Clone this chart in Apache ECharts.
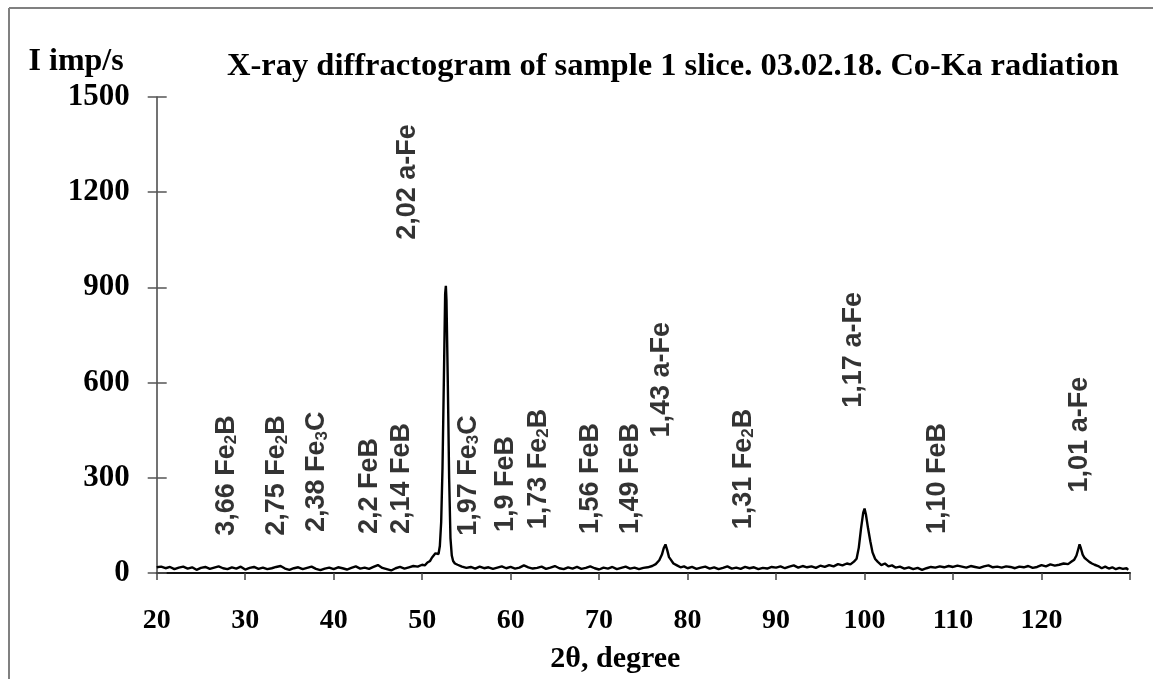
<!DOCTYPE html>
<html><head><meta charset="utf-8">
<script src="https://cdn.jsdelivr.net/npm/echarts@6/dist/echarts.min.js"></script>
<style>html,body{margin:0;padding:0;background:#fff}#c{width:1153px;height:679px}</style>
</head><body><div id="c"></div><script>
// 2θ (degree) sample positions and measured intensity (imp/s)
const twoTheta = [
 20,20.5,21,21.5,22,22.5,23,23.5,24,24.5,25,25.5,26,26.5,27,27.5,28,28.5,29,29.5,
 30,30.5,31,31.5,32,32.5,33,33.5,34,34.5,35,35.5,36,36.5,37,37.5,38,38.5,39,39.5,
 40,40.5,41,41.5,42,42.5,43,43.5,44,44.5,45,45.5,46,46.5,47,47.5,48,48.5,49,49.5,
 50,50.3,50.6,50.9,51.1,51.3,51.5,51.7,51.85,52.0,52.15,52.3,52.45,52.6,52.68,52.75,52.9,53.05,53.2,53.35,53.5,53.7,
 54,54.5,55,55.5,56,56.5,57,57.5,58,58.5,59,59.5,60,60.5,61,61.5,62,62.5,63,63.5,
 64,64.5,65,65.5,66,66.5,67,67.5,68,68.5,69,69.5,70,70.5,71,71.5,72,72.5,73,73.5,
 74,74.5,75,75.5,76,76.4,76.8,77.1,77.3,77.5,77.7,77.9,78.1,78.4,78.8,79.2,79.6,
 80,80.5,81,81.5,82,82.5,83,83.5,84,84.5,85,85.5,86,86.5,87,87.5,88,88.5,89,89.5,
 90,90.5,91,91.5,92,92.5,93,93.5,94,94.5,95,95.5,96,96.5,97,97.5,98,98.4,98.8,99.1,
 99.35,99.6,99.85,100.0,100.15,100.4,100.65,100.9,101.2,101.5,101.9,102.3,102.7,103.1,103.5,
 104,104.5,105,105.5,106,106.5,107,107.5,108,108.5,109,109.5,110,110.5,111,111.5,112,112.5,113,113.5,
 114,114.5,115,115.5,116,116.5,117,117.5,118,118.5,119,119.5,120,120.5,121,121.5,122,122.5,123,123.4,
 123.7,123.95,124.15,124.3,124.45,124.65,124.85,125.1,125.4,125.7,126,126.4,126.8,127.2,127.6,128,128.4,128.8,129.2,129.6,129.8
];
const intensity = [
 18,20,15,19,12,17,20,14,18,10,16,19,13,17,21,15,12,18,14,20,
 11,16,19,13,17,12,15,19,22,14,10,15,18,12,16,20,13,9,14,17,
 12,18,15,11,16,21,14,17,13,19,25,16,12,8,15,19,14,18,22,20,
 26,24,33,38,48,44,62,68,60,85,160,330,600,880,905,860,600,300,110,55,38,30,
 26,20,16,19,14,20,15,18,13,17,21,15,19,14,17,24,18,14,16,20,
 13,17,22,15,12,18,14,19,13,16,21,15,11,17,14,19,12,16,20,14,
 17,12,16,18,22,28,40,58,78,90,72,50,42,30,24,18,21,
 15,19,13,17,20,14,18,12,16,21,14,17,13,19,15,18,12,16,14,19,
 17,21,15,20,24,17,22,18,21,16,23,19,25,21,28,24,30,27,36,45,
 80,140,190,203,185,140,100,65,44,35,25,30,21,24,17,
 20,14,18,12,16,10,15,19,17,21,18,22,19,23,20,17,22,19,16,21,
 24,18,20,17,21,19,15,20,18,22,16,19,25,21,27,23,26,30,28,36,
 42,55,75,90,78,58,48,42,35,30,26,22,15,20,14,18,12,16,13,15,10
];
const xTickValues = [20,30,40,50,60,70,80,90,100,110,120];
const yTickValues = [0,300,600,900,1200,1500];

// phase annotations: text, 2θ position, label start level (imp/s)
const peakText = ['3,66 Fe{s|2}B','2,75 Fe{s|2}B','2,38 Fe{s|3}C','2,2 FeB','2,14 FeB','2,02 a-Fe',
 '1,97 Fe{s|3}C','1,9 FeB','1,73 Fe{s|2}B','1,56 FeB','1,49 FeB','1,43 a-Fe','1,31 Fe{s|2}B',
 '1,17 a-Fe','1,10 FeB','1,01 a-Fe'];
const peakTwoTheta = [27.9,33.6,38.1,44.1,47.7,48.4,55.2,59.4,63.1,69.0,73.5,77.1,86.3,98.7,108.3,124.3];
const peakLevel = [117,117,129,123,123,1050,117,129,138,123,123,427,138,521,123,254];

const spectrum = twoTheta.map((t, i) => [t, intensity[i]]);
const labelPoints = peakText.map((s, i) => ({value: [peakTwoTheta[i], peakLevel[i]], name: s}));

const serif = 'Liberation Serif';
const sans = 'Liberation Sans';
const chart = echarts.init(document.getElementById('c'));
chart.setOption({
  animation: false,
  backgroundColor: '#fff',
  title: {
    text: 'X-ray diffractogram of sample 1 slice. 03.02.18. Co-Ka radiation',
    left: 222, top: 45,
    textStyle: {fontFamily: serif, fontWeight: 'bold', fontSize: 32.5, color: '#000', lineHeight: 34}
  },
  grid: {left: 156.7, right: 23, top: 97, bottom: 105},
  xAxis: {
    type: 'value', min: 20, max: 130, interval: 10,
    name: '2θ, degree', nameLocation: 'middle', nameGap: 71,
    nameTextStyle: {fontFamily: serif, fontWeight: 'bold', fontSize: 30, color: '#000', padding: [0, 56, 0, 0]},
    axisLine: {lineStyle: {color: '#111', width: 2}},
    axisTick: {show: true, length: 7, lineStyle: {color: '#444', width: 1.5}},
    splitLine: {show: false},
    axisLabel: {
      margin: 34, fontFamily: serif, fontWeight: 'bold', fontSize: 28, color: '#000',
      formatter: v => xTickValues.indexOf(v) >= 0 ? String(v) : ''
    }
  },
  yAxis: [{
    type: 'value', min: 0, max: 1500, interval: 300,
    name: 'I imp/s', nameLocation: 'end', nameGap: 35,
    nameTextStyle: {fontFamily: serif, fontWeight: 'bold', fontSize: 32, color: '#000',
      align: 'right', verticalAlign: 'middle', padding: [0, 33, 0, 0]},
    axisLine: {show: true, lineStyle: {color: '#444', width: 1.5}},
    axisTick: {show: true, length: 9, lineStyle: {color: '#555', width: 1.5}},
    splitLine: {show: false},
    axisLabel: {margin: 27, fontFamily: serif, fontWeight: 'bold', fontSize: 31, color: '#000',
      formatter: v => yTickValues.indexOf(v) >= 0 ? String(v) : ''}
  }, {
    type: 'value', min: 0, max: 1500, interval: 300, position: 'left',
    axisLine: {show: false},
    axisTick: {show: true, inside: true, length: 10, lineStyle: {color: '#555', width: 1.5}},
    axisLabel: {show: false}, splitLine: {show: false}
  }],
  graphic: [
    {type: 'line', shape: {x1: 9, y1: 8, x2: 9, y2: 679}, style: {stroke: '#808080', lineWidth: 2}, silent: true},
    {type: 'line', shape: {x1: 9, y1: 8, x2: 1153, y2: 8}, style: {stroke: '#808080', lineWidth: 2}, silent: true}
  ],
  series: [{
    type: 'line', data: spectrum, showSymbol: false, symbol: 'none', silent: true,
    lineStyle: {color: '#000', width: 2.4}, z: 3
  }, {
    type: 'scatter', data: labelPoints, symbolSize: 0, silent: true, z: 4,
    label: {
      show: true, position: [0, 0], rotate: 90, align: 'left', verticalAlign: 'middle',
      formatter: p => p.name,
      fontFamily: sans, fontWeight: 'bold', fontSize: 27, lineHeight: 27, color: '#000',
      rich: {s: {fontFamily: sans, fontWeight: 'bold', fontSize: 17, lineHeight: 17,
        verticalAlign: 'bottom', padding: [14, 0, 0, 0], color: '#000'}}
    }
  }]
});
</script></body></html>
